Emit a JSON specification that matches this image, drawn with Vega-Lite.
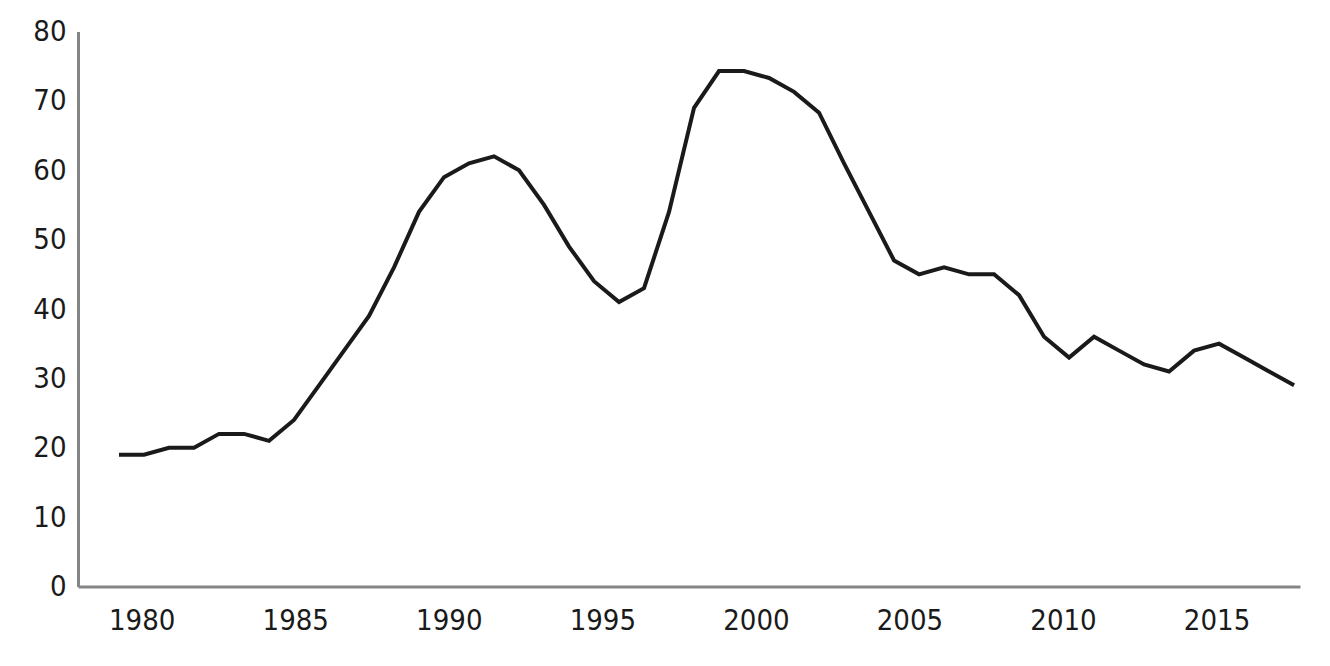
{
  "$schema": "https://vega.github.io/schema/vega-lite/v6.json",
  "autosize": {"type": "none"},
  "width": 1222,
  "height": 555,
  "padding": {"left": 78, "top": 31.5, "right": 30, "bottom": 79.5},
  "background": "white",
  "config": {
    "view": {"stroke": null},
    "axis": {
      "grid": false,
      "ticks": false,
      "tickSize": 0,
      "domainColor": "#858585",
      "domainWidth": 3,
      "labelFont": "DejaVu Sans Condensed",
      "labelFontSize": 29,
      "labelColor": "#1a1a1a",
      "title": null
    }
  },
  "data": {
    "values": [
      {"year": 1979.261, "value": 19},
      {"year": 1980.075, "value": 19},
      {"year": 1980.889, "value": 20},
      {"year": 1981.703, "value": 20},
      {"year": 1982.517, "value": 22},
      {"year": 1983.332, "value": 22},
      {"year": 1984.146, "value": 21},
      {"year": 1984.960, "value": 24},
      {"year": 1985.774, "value": 29},
      {"year": 1986.588, "value": 34},
      {"year": 1987.402, "value": 39},
      {"year": 1988.216, "value": 46},
      {"year": 1989.030, "value": 54},
      {"year": 1989.844, "value": 59},
      {"year": 1990.658, "value": 61},
      {"year": 1991.473, "value": 62},
      {"year": 1992.287, "value": 60},
      {"year": 1993.101, "value": 55},
      {"year": 1993.915, "value": 49},
      {"year": 1994.729, "value": 44},
      {"year": 1995.543, "value": 41},
      {"year": 1996.357, "value": 43},
      {"year": 1997.171, "value": 54},
      {"year": 1997.985, "value": 69},
      {"year": 1998.799, "value": 74.3},
      {"year": 1999.614, "value": 74.3},
      {"year": 2000.428, "value": 73.3},
      {"year": 2001.242, "value": 71.3},
      {"year": 2002.056, "value": 68.3},
      {"year": 2002.870, "value": 61},
      {"year": 2003.684, "value": 54},
      {"year": 2004.498, "value": 47},
      {"year": 2005.312, "value": 45},
      {"year": 2006.126, "value": 46},
      {"year": 2006.940, "value": 45},
      {"year": 2007.755, "value": 45},
      {"year": 2008.569, "value": 42},
      {"year": 2009.383, "value": 36},
      {"year": 2010.197, "value": 33},
      {"year": 2011.011, "value": 36},
      {"year": 2011.825, "value": 34},
      {"year": 2012.639, "value": 32},
      {"year": 2013.453, "value": 31},
      {"year": 2014.267, "value": 34},
      {"year": 2015.081, "value": 35},
      {"year": 2015.896, "value": 33},
      {"year": 2016.710, "value": 31},
      {"year": 2017.524, "value": 29}
    ]
  },
  "mark": {"type": "line", "color": "#1a1a1a", "strokeWidth": 4, "clip": false},
  "encoding": {
    "x": {
      "field": "year",
      "type": "quantitative",
      "scale": {"domain": [1977.926, 2017.717], "nice": false, "zero": false},
      "axis": {"values": [1980, 1985, 1990, 1995, 2000, 2005, 2010, 2015], "format": "d", "labelPadding": 20, "labelFlush": false}
    },
    "y": {
      "field": "value",
      "type": "quantitative",
      "scale": {"domain": [0, 80], "nice": false},
      "axis": {"values": [0, 10, 20, 30, 40, 50, 60, 70, 80], "labelPadding": 12}
    }
  }
}
